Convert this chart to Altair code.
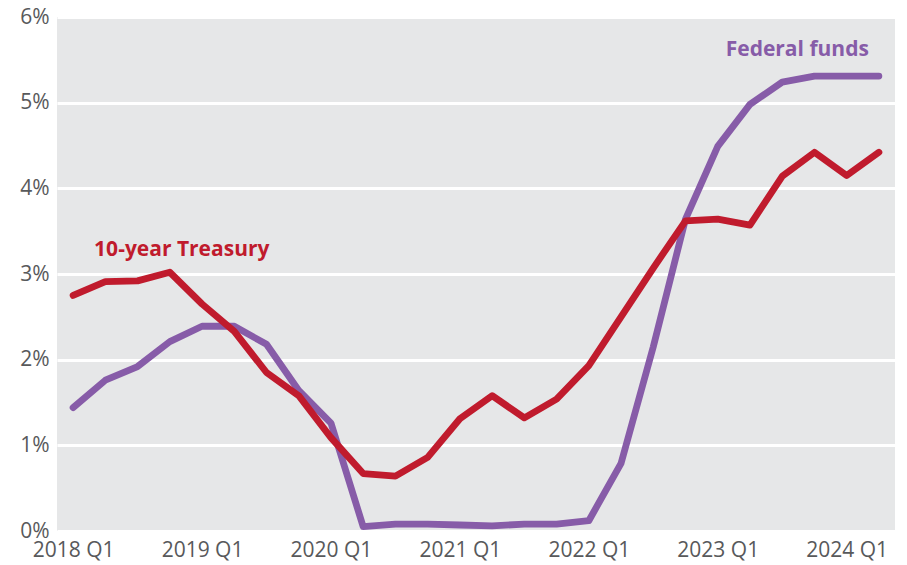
import altair as alt
import pandas as pd

quarters = [f"{y} Q{q}" for y in range(2018, 2025) for q in range(1, 5)][:26]

treasury = [2.75, 2.91, 2.92, 3.02, 2.65, 2.33, 1.85, 1.58,
            1.09, 0.67, 0.64, 0.86, 1.31, 1.58, 1.32, 1.54,
            1.93, 2.50, 3.07, 3.62, 3.64, 3.57, 4.14, 4.42,
            4.15, 4.42]

fed_funds = [1.44, 1.76, 1.92, 2.21, 2.39, 2.39, 2.18, 1.64,
             1.26, 0.05, 0.08, 0.08, 0.07, 0.06, 0.08, 0.08,
             0.12, 0.79, 2.15, 3.64, 4.49, 4.98, 5.24, 5.31,
             5.31, 5.31]

tick_labels = ["2018 Q1", "2019 Q1", "2020 Q1", "2021 Q1", "2022 Q1", "2023 Q1", "2024 Q1"]
y_ticks = [0, 1, 2, 3, 4, 5, 6]

label_names = ["10-year Treasury", "Federal funds"]
label_quarters = ["2018 Q1", "2024 Q2"]
label_values = [3.28, 5.62]

RED = "#c01b2d"
PURPLE = "#875ca8"

df = pd.DataFrame({
    "quarter": quarters * 2,
    "rate": treasury + fed_funds,
    "series": ["10-year Treasury"] * len(quarters) + ["Federal funds"] * len(quarters),
})
labels = pd.DataFrame({"label": label_names, "quarter": label_quarters, "rate": label_values})

x = alt.X("quarter:O", sort=quarters,
          scale=alt.Scale(type="point", padding=0.5),
          axis=alt.Axis(values=tick_labels, title=None, labelAngle=0, ticks=False,
                        domain=False, grid=False, labelFontSize=21, labelFont="Open Sans",
                        labelColor="#58595b", labelPadding=8, labelOverlap=False))
y = alt.Y("rate:Q", scale=alt.Scale(domain=[0, 6], nice=False),
          axis=alt.Axis(values=y_ticks, title=None, ticks=False, domain=False,
                        grid=True, gridColor="white", gridWidth=3, gridOpacity=1,
                        labelExpr="datum.value + '%'", labelFontSize=21,
                        labelFont="Open Sans", labelColor="#58595b", labelPadding=8))

base = alt.Chart(df)
purple_line = base.transform_filter(alt.datum.series == "Federal funds").mark_line(
    color=PURPLE, strokeWidth=6.8, strokeCap="round", strokeJoin="round").encode(x=x, y=y)
red_line = base.transform_filter(alt.datum.series == "10-year Treasury").mark_line(
    color=RED, strokeWidth=6.8, strokeCap="round", strokeJoin="round").encode(x=x, y=y)

lab = alt.Chart(labels)
red_text = lab.transform_filter(alt.datum.label == "10-year Treasury").mark_text(
    align="left", baseline="middle", dx=21, font="Open Sans", fontWeight="bold",
    fontSize=21, color=RED).encode(x=alt.X("quarter:O", sort=quarters), y="rate:Q", text="label:N")
purple_text = lab.transform_filter(alt.datum.label == "Federal funds").mark_text(
    align="right", baseline="middle", dx=-10, font="Open Sans", fontWeight="bold",
    fontSize=21, color=PURPLE).encode(x=alt.X("quarter:O", sort=quarters), y="rate:Q", text="label:N")

chart = alt.layer(purple_line, red_line, red_text, purple_text).properties(
    width=838, height=514,
    autosize=alt.AutoSizeParams(type="none"),
    padding={"left": 49, "top": 9, "right": 4, "bottom": 30},
    background="white",
).configure_view(fill="#e6e7e8", stroke=None)

chart.save("out.html", embed_options={"renderer": "svg", "actions": False})
